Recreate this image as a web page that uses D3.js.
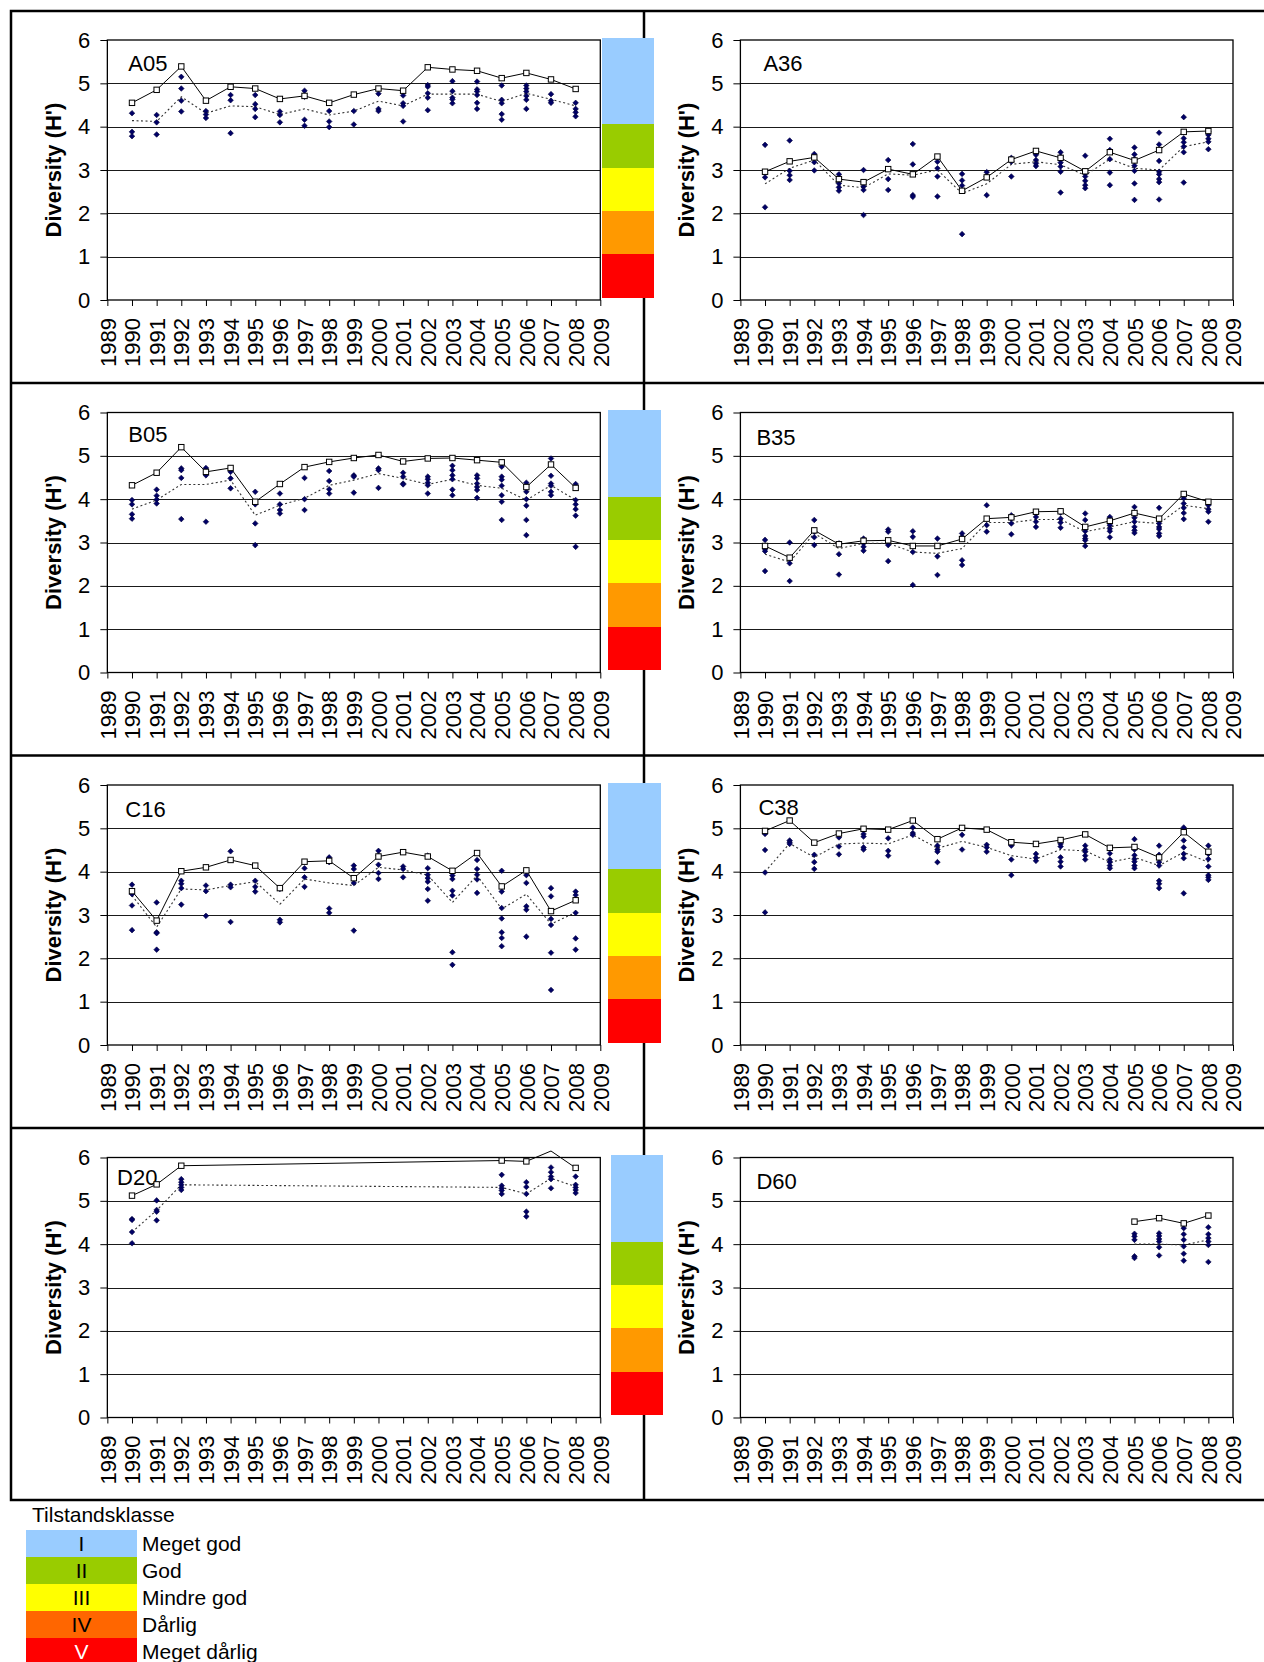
<!DOCTYPE html>
<html><head><meta charset="utf-8">
<script src="https://cdn.jsdelivr.net/npm/d3@7"></script>
<style>
body{margin:0;background:#fff}
svg{display:block}
text{font-family:"Liberation Sans",Arial,sans-serif;fill:#000}
</style>
</head><body>
<svg id="c" width="1264" height="1662"></svg>
<script>
// ---------------- DATA ----------------
const years = [1990,1991,1992,1993,1994,1995,1996,1997,1998,1999,2000,2001,2002,2003,2004,2005,2006,2007,2008];
const axisYears = [1989,1990,1991,1992,1993,1994,1995,1996,1997,1998,1999,2000,2001,2002,2003,2004,2005,2006,2007,2008,2009];
const yTicks = [0,1,2,3,4,5,6];

const a05Max  = [4.55,4.85,5.39,4.60,4.92,4.88,4.64,4.71,4.55,4.74,4.88,4.83,5.37,5.32,5.29,5.12,5.24,5.09,4.87];
const a05Mean = [4.14,4.12,4.69,4.31,4.48,4.46,4.28,4.41,4.27,4.36,4.59,4.48,4.75,4.75,4.75,4.58,4.77,4.63,4.48];
const a05Samples = [
 [4.31,3.88,3.78],[4.27,4.10,3.82],[5.15,4.88,4.60,4.35],[4.36,4.28,4.20],[4.73,4.61,3.85],
 [4.73,4.52,4.41,4.22],[4.35,4.27,4.10],[4.83,4.69,4.16,4.02],[4.36,4.12,3.99],[4.36,4.05],
 [4.76,4.41,4.36],[4.72,4.54,4.48,4.12],[4.96,4.92,4.77,4.67,4.38],[5.05,4.82,4.67,4.63,4.54],
 [5.04,4.86,4.81,4.73,4.55,4.41],[4.95,4.62,4.54,4.29,4.16],[4.95,4.88,4.81,4.71,4.62,4.41],
 [4.75,4.60,4.55],[4.55,4.41,4.33,4.24]];

const a36Max  = [2.96,3.20,3.29,2.79,2.72,3.02,2.90,3.31,2.52,2.83,3.24,3.44,3.28,2.97,3.41,3.22,3.46,3.88,3.90];
const a36Mean = [2.68,3.04,3.23,2.65,2.59,2.91,2.88,3.00,2.46,2.68,3.13,3.19,3.12,2.88,3.25,3.04,3.00,3.54,3.65];
const a36Samples = [
 [3.58,2.83,2.14],[3.68,2.98,2.88,2.77],[3.37,3.18,2.99],[2.90,2.81,2.69,2.60,2.52],[3.00,2.62,2.54,1.96],
 [3.23,2.79,2.54],[3.60,3.13,2.42,2.38],[3.19,3.04,2.85,2.39],[2.91,2.76,2.64,1.52],[2.95,2.85,2.42],
 [3.28,3.19,2.85],[3.35,3.23,3.15,3.09],[3.41,3.31,3.17,3.08,2.96,2.48],[3.33,2.92,2.85,2.75,2.65,2.58],
 [3.72,3.46,3.25,2.94,2.65],[3.52,3.36,3.25,3.10,2.98,2.69,2.31],[3.86,3.59,3.21,2.96,2.90,2.79,2.72,2.32],
 [4.22,3.73,3.64,3.54,3.41,2.71],[3.88,3.81,3.72,3.65,3.48]];

const b05Max  = [4.32,4.61,5.20,4.63,4.72,3.94,4.35,4.74,4.86,4.95,5.02,4.87,4.94,4.95,4.90,4.85,4.28,4.80,4.26];
const b05Mean = [3.77,3.98,4.34,4.34,4.44,3.63,3.86,4.02,4.32,4.44,4.59,4.48,4.34,4.46,4.32,4.25,3.98,4.32,3.98];
const b05Samples = [
 [3.98,3.88,3.65,3.55],[4.22,4.08,3.99,3.90],[4.71,4.67,4.49,3.54],[4.72,4.55,3.48],[4.63,4.48,4.25],
 [4.17,3.88,3.44,2.94],[4.13,3.88,3.75,3.67],[4.49,4.00,3.75],[4.65,4.42,4.23,4.13],[4.55,4.52,4.15],
 [4.71,4.67,4.26],[4.61,4.52,4.36,4.34],[4.52,4.46,4.38,4.32,4.13],[4.77,4.67,4.55,4.46,4.22,4.09],
 [4.55,4.48,4.36,4.28,4.21,4.03],[4.75,4.52,4.45,4.31,4.09,3.94,3.52],[4.38,4.17,4.00,3.85,3.52,3.17],
 [4.94,4.54,4.36,4.31,4.17,4.09],[4.35,3.98,3.88,3.77,3.62,2.90]];

const b35Max  = [2.92,2.65,3.28,2.96,3.04,3.05,2.92,2.92,3.08,3.55,3.58,3.71,3.72,3.36,3.50,3.68,3.55,4.12,3.94];
const b35Mean = [2.73,2.55,3.21,2.86,2.98,2.98,2.78,2.75,2.86,3.46,3.46,3.53,3.53,3.25,3.36,3.48,3.44,3.86,3.78];
const b35Samples = [
 [3.06,2.85,2.80,2.34],[3.00,2.52,2.11],[3.52,3.25,3.12,2.94],[2.98,2.73,2.26],[3.09,2.98,2.90,2.81],
 [3.30,3.25,2.94,2.57],[3.26,3.13,2.78,2.02],[3.09,2.68,2.25],[3.21,3.13,2.59,2.48],[3.86,3.40,3.25],
 [3.63,3.55,3.44,3.19],[3.67,3.59,3.48,3.36],[3.69,3.55,3.46,3.34],[3.67,3.52,3.26,3.15,3.09,3.05,2.92],
 [3.59,3.40,3.32,3.26,3.12],[3.82,3.67,3.57,3.48,3.36,3.28,3.22],[3.80,3.44,3.36,3.31,3.21,3.15],
 [4.02,3.90,3.80,3.68,3.54],[3.86,3.77,3.71,3.48]];

const c16Max  = [3.55,2.87,4.01,4.10,4.27,4.14,3.62,4.23,4.25,3.85,4.35,4.45,4.35,4.02,4.43,3.66,4.03,3.09,3.34];
const c16Mean = [3.45,2.72,3.60,3.58,3.68,3.77,3.25,3.83,3.74,3.68,4.10,4.04,3.92,3.29,3.91,3.14,3.48,2.79,3.06];
const c16Samples = [
 [3.70,3.48,3.22,2.65],[3.29,2.60,2.58,2.20],[3.79,3.72,3.62,3.24],[3.68,3.55,2.98],[4.47,3.70,3.64,2.84],
 [3.79,3.65,3.54],[3.60,2.89,2.83],[4.08,3.87,3.65],[4.33,4.22,3.15,3.05],[4.14,4.06,3.74,2.64],
 [4.48,4.37,4.16,3.97,3.83],[4.12,4.06,3.87],[4.37,4.08,3.93,3.85,3.77,3.60,3.33],
 [3.91,3.83,3.56,3.45,2.14,1.85],[4.27,4.06,3.93,3.82,3.51],[4.02,3.54,3.16,2.92,2.60,2.47,2.28],
 [4.02,3.92,3.74,3.20,3.12,2.50],[3.62,3.43,2.91,2.77,2.13,1.27],[3.54,3.46,3.05,2.46,2.20]];

const c38Max  = [4.94,5.18,4.67,4.88,4.99,4.97,5.18,4.75,5.01,4.97,4.68,4.64,4.73,4.86,4.55,4.57,4.33,4.91,4.46];
const c38Mean = [4.00,4.65,4.33,4.64,4.66,4.64,4.85,4.54,4.70,4.56,4.37,4.29,4.51,4.48,4.22,4.33,4.14,4.45,4.22];
const c38Samples = [
 [4.87,4.50,3.98,3.06],[4.72,4.68,4.64],[4.39,4.22,4.06],[4.79,4.58,4.40],[4.87,4.81,4.56,4.51],
 [4.77,4.48,4.37],[5.02,4.89,4.85],[4.60,4.51,4.46,4.22],[4.85,4.51],[4.62,4.56,4.46],
 [4.60,4.28,3.92],[4.41,4.32,4.25],[4.64,4.58,4.33,4.23,4.12],[4.60,4.51,4.46,4.37,4.28],
 [4.42,4.28,4.22,4.14,4.08],[4.75,4.51,4.38,4.29,4.23,4.14,4.08],[4.60,4.39,4.22,4.14,3.79,3.72,3.62],
 [5.02,4.72,4.56,4.41,4.31,3.50],[4.60,4.41,4.29,4.12,3.92,3.87,3.81]];

const d20Max  = [5.12,5.38,5.81,null,null,null,null,null,null,null,null,null,null,null,null,5.93,5.91,6.15,5.76];
const d20Mean = [4.28,4.78,5.37,null,null,null,null,null,null,null,null,null,null,null,null,5.31,5.16,5.52,5.33];
const d20Samples = [
 [4.58,4.56,4.28,4.02],[5.01,4.79,4.75,4.55],[5.50,5.43,5.37,5.31,5.25],
 [],[],[],[],[],[],[],[],[],[],[],[],
 [5.60,5.35,5.29,5.24,5.16],[5.43,5.32,5.16,4.75,4.64],[5.77,5.66,5.56,5.50,5.29],[5.56,5.37,5.31,5.25,5.18]];

const d60Max  = [null,null,null,null,null,null,null,null,null,null,null,null,null,null,null,4.52,4.60,4.48,4.66];
const d60Mean = [null,null,null,null,null,null,null,null,null,null,null,null,null,null,null,4.00,4.00,3.98,4.10];
const d60Samples = [
 [],[],[],[],[],[],[],[],[],[],[],[],[],[],[],
 [4.24,4.18,4.10,3.72,3.68],[4.25,4.19,4.12,4.06,3.93,3.74],[4.37,4.23,4.10,3.95,3.78,3.62],[4.39,4.23,4.14,4.06,3.98,3.59]];

const bandClasses = [[4,6],[3,4],[2,3],[1,2],[0,1]];
const bandColors  = ["#99CCFF","#99CC00","#FFFF00","#FF9900","#FF0000"];
const legendNumerals = ["I","II","III","IV","V"];
const legendLabels = ["Meget god","God","Mindre god","Dårlig","Meget dårlig"];
const legendColors = ["#99CCFF","#99CC00","#FFFF00","#FF6600","#FF0000"];
const yTitle = "Diversity (H')";
const legendTitle = "Tilstandsklasse";

// ---------------- LAYOUT ----------------
const panels = [
 {id:"A05", col:0,row:0, max:a05Max, mean:a05Mean, samples:a05Samples, bandX:601.7, lab:[21,31]},
 {id:"A36", col:1,row:0, max:a36Max, mean:a36Mean, samples:a36Samples, bandX:null,  lab:[23,31]},
 {id:"B05", col:0,row:1, max:b05Max, mean:b05Mean, samples:b05Samples, bandX:608.3, lab:[21,29.5]},
 {id:"B35", col:1,row:1, max:b35Max, mean:b35Mean, samples:b35Samples, bandX:null,  lab:[16,32]},
 {id:"C16", col:0,row:2, max:c16Max, mean:c16Mean, samples:c16Samples, bandX:608.3, lab:[18,31.5]},
 {id:"C38", col:1,row:2, max:c38Max, mean:c38Mean, samples:c38Samples, bandX:null,  lab:[18,30]},
 {id:"D20", col:0,row:3, max:d20Max, mean:d20Mean, samples:d20Samples, bandX:610.5, lab:[9.7,27]},
 {id:"D60", col:1,row:3, max:d60Max, mean:d60Mean, samples:d60Samples, bandX:null,  lab:[16,31]}
];
const colX = [[107.35,600.3],[740.4,1233]];
const rowTop = r => 40 + 372.5*r;
const plotH = 260;

const svg = d3.select("#c");

// outer frame
const frame = svg.append("g").attr("stroke","#000").attr("stroke-width",2.5).attr("fill","none");
frame.append("rect").attr("x",11).attr("y",11).attr("width",1300).attr("height",1489);
[383,755.5,1128].forEach(y=>frame.append("line").attr("x1",11).attr("x2",1264).attr("y1",y).attr("y2",y));
frame.append("line").attr("x1",644).attr("x2",644).attr("y1",11).attr("y2",1500);

const diamond = "M0,-2.8L2.8,0L0,2.8L-2.8,0Z";

panels.forEach(p=>{
  const [x0,x1] = colX[p.col];
  const top = rowTop(p.row), bot = top+plotH;
  const x = d3.scaleLinear().domain([1989,2009]).range([x0,x1]);
  const y = d3.scaleLinear().domain([0,6]).range([bot,top]);
  const g = svg.append("g");

  // gridlines
  g.append("g").selectAll("line").data(yTicks.filter(v=>v>0&&v<6)).join("line")
    .attr("x1",x0).attr("x2",x1).attr("y1",d=>Math.round(y(d))+0.5).attr("y2",d=>Math.round(y(d))+0.5)
    .attr("stroke","#1a1a1a").attr("stroke-width",1);

  // class band
  if(p.bandX!==null){
    g.append("g").attr("shape-rendering","crispEdges").selectAll("rect").data(bandClasses).join("rect")
      .attr("x",p.bandX).attr("width",52.6)
      .attr("y",d=>y(d[1])-2.5).attr("height",(d,i)=>y(d[0])-y(d[1])+(i<4?1:0))
      .attr("fill",(d,i)=>bandColors[i]);
  }

  // plot border
  g.append("rect").attr("x",x0).attr("y",top).attr("width",x1-x0).attr("height",plotH)
    .attr("fill","none").attr("stroke","#000").attr("stroke-width",1.3);

  // y axis
  const ya = g.append("g").attr("transform",`translate(${x0},0)`)
    .call(d3.axisLeft(y).tickValues(yTicks).tickFormat(d3.format("d")).tickSize(7).tickPadding(10).tickSizeOuter(0));
  ya.select(".domain").remove();
  ya.selectAll("line").attr("stroke","#000");
  ya.selectAll("text").attr("font-size",22).attr("font-family",'"Liberation Sans",Arial,sans-serif').attr("fill","#000");

  // x axis
  const xa = g.append("g").attr("transform",`translate(0,${bot})`)
    .call(d3.axisBottom(x).tickValues(axisYears).tickFormat(d3.format("d")).tickSize(6).tickSizeOuter(0));
  xa.select(".domain").remove();
  xa.selectAll("line").attr("stroke","#000");
  xa.selectAll("text").attr("font-size",22).attr("font-family",'"Liberation Sans",Arial,sans-serif').attr("fill","#000")
    .attr("transform","rotate(-90)").attr("x",-18).attr("y",0).attr("dy","0.35em").attr("text-anchor","end");

  // y title
  g.append("text").attr("transform",`translate(${x0-46},${(top+bot)/2}) rotate(-90)`)
    .attr("text-anchor","middle").attr("font-size",22).attr("font-weight","bold").text(yTitle);

  // panel label
  g.append("text").attr("x",x0+p.lab[0]).attr("y",top+p.lab[1]).attr("font-size",22).text(p.id);

  // lines
  const ptsMax = years.map((yr,i)=>[yr,p.max[i]]).filter(d=>d[1]!==null);
  const ptsMean = years.map((yr,i)=>[yr,p.mean[i]]).filter(d=>d[1]!==null);
  const line = d3.line().x(d=>x(d[0])).y(d=>y(d[1]));
  g.append("path").attr("d",line(ptsMean)).attr("fill","none").attr("stroke","#333")
    .attr("stroke-width",1.1).attr("stroke-dasharray","2,2.5");
  g.append("path").attr("d",line(ptsMax)).attr("fill","none").attr("stroke","#000").attr("stroke-width",1);

  // sample diamonds
  const pts = [];
  years.forEach((yr,i)=>p.samples[i].forEach(v=>pts.push([yr,v])));
  g.append("g").selectAll("path").data(pts).join("path")
    .attr("d",diamond).attr("transform",d=>`translate(${x(d[0])},${y(d[1])})`)
    .attr("fill","#000066").attr("stroke","#00003a").attr("stroke-width",0.6);

  // max squares (clipped to plot area)
  g.append("g").selectAll("rect").data(ptsMax.filter(d=>d[1]<=6)).join("rect")
    .attr("x",d=>x(d[0])-2.7).attr("y",d=>y(d[1])-2.7).attr("width",5.4).attr("height",5.4)
    .attr("fill","#fff").attr("stroke","#000").attr("stroke-width",1);
});

// legend
const lg = svg.append("g");
lg.append("text").attr("x",32).attr("y",1522).attr("font-size",21).text(legendTitle);
legendLabels.forEach((lab,i)=>{
  const y0 = 1530 + 27*i;
  lg.append("rect").attr("x",26).attr("y",y0).attr("width",111).attr("height",27.5).attr("fill",legendColors[i]);
  lg.append("text").attr("x",81.5).attr("y",y0+13.5).attr("dy","0.35em").attr("text-anchor","middle")
    .attr("font-size",21).style("fill",i===4?"#fff":"#000").text(legendNumerals[i]);
  lg.append("text").attr("x",142).attr("y",y0+13.5).attr("dy","0.35em").attr("font-size",21).text(lab);
});
</script>
</body></html>
